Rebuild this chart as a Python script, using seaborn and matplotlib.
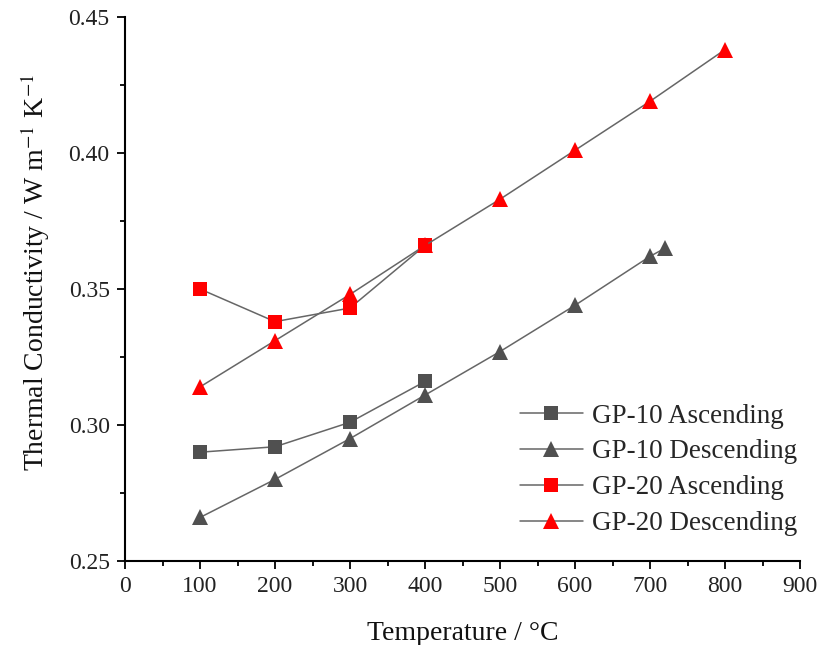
import matplotlib
matplotlib.use("Agg")
import matplotlib.pyplot as plt
from matplotlib.ticker import MultipleLocator, FormatStrFormatter
import seaborn as sns
import pandas as pd

# Measured thermal conductivity (W m^-1 K^-1) vs temperature (°C)
gp10_asc_t = [100, 200, 300, 400]
gp10_asc_k = [0.290, 0.292, 0.301, 0.316]

gp10_desc_t = [100, 200, 300, 400, 500, 600, 700, 720]
gp10_desc_k = [0.266, 0.280, 0.295, 0.311, 0.327, 0.344, 0.362, 0.365]

gp20_asc_t = [100, 200, 300, 400]
gp20_asc_k = [0.350, 0.338, 0.343, 0.366]

gp20_desc_t = [100, 200, 300, 400, 500, 600, 700, 800]
gp20_desc_k = [0.314, 0.331, 0.348, 0.366, 0.383, 0.401, 0.419, 0.438]

labels = ["GP-10 Ascending", "GP-10 Descending", "GP-20 Ascending", "GP-20 Descending"]

sns.set_theme(style="white")
plt.rcParams["font.family"] = ["Liberation Serif", "DejaVu Serif"]
plt.rcParams["mathtext.fontset"] = "stix"

fig = plt.figure(figsize=(8.17, 6.45), dpi=100)
ax = fig.add_axes([125 / 817, 1 - 561 / 645, 675 / 817, 544 / 645])

series = [
    (gp10_asc_t, gp10_asc_k, "s", "#505050", 10),
    (gp10_desc_t, gp10_desc_k, "^", "#505050", 11),
    (gp20_asc_t, gp20_asc_k, "s", "#ff0000", 10),
    (gp20_desc_t, gp20_desc_k, "^", "#ff0000", 11),
]

for (t, k, m, c, ms), lab in zip(series, labels):
    df = pd.DataFrame({"T": t, "k": k})
    sns.lineplot(data=df, x="T", y="k", ax=ax, color="#666666", linewidth=1.1,
                 marker=m, markersize=ms, markerfacecolor=c, markeredgecolor=c,
                 markeredgewidth=0, label=lab, sort=False)

ax.set_xlim(0, 900)
ax.set_ylim(0.25, 0.45)
ax.xaxis.set_major_locator(MultipleLocator(100))
ax.xaxis.set_minor_locator(MultipleLocator(50))
ax.yaxis.set_major_locator(MultipleLocator(0.05))
ax.yaxis.set_minor_locator(MultipleLocator(0.025))
ax.yaxis.set_major_formatter(FormatStrFormatter("%.2f"))

for side in ["top", "right"]:
    ax.spines[side].set_visible(False)
for side in ["left", "bottom"]:
    ax.spines[side].set_color("black")
    ax.spines[side].set_linewidth(1.5)

ax.tick_params(which="major", direction="out", length=6, width=1.3, color="black",
               labelsize=17, labelcolor="#222222", left=True, bottom=True, pad=5)
ax.tick_params(which="minor", direction="out", length=3.5, width=1.3, color="black",
               left=True, bottom=True)

ax.set_xlabel("Temperature / °C", fontsize=20, color="#111111", labelpad=17)
ax.set_ylabel("Thermal Conductivity / W m$^{-1}$ K$^{-1}$",
              fontsize=20, color="#111111")
ax.yaxis.set_label_coords(-0.108, 0.531)

leg = ax.legend(loc="lower right", bbox_to_anchor=(1.02, 0.016), frameon=False,
                fontsize=19.5, handlelength=2.3, handletextpad=0.35, labelspacing=0.4,
                borderaxespad=0.2)

fig.savefig("out.png", dpi=100)
